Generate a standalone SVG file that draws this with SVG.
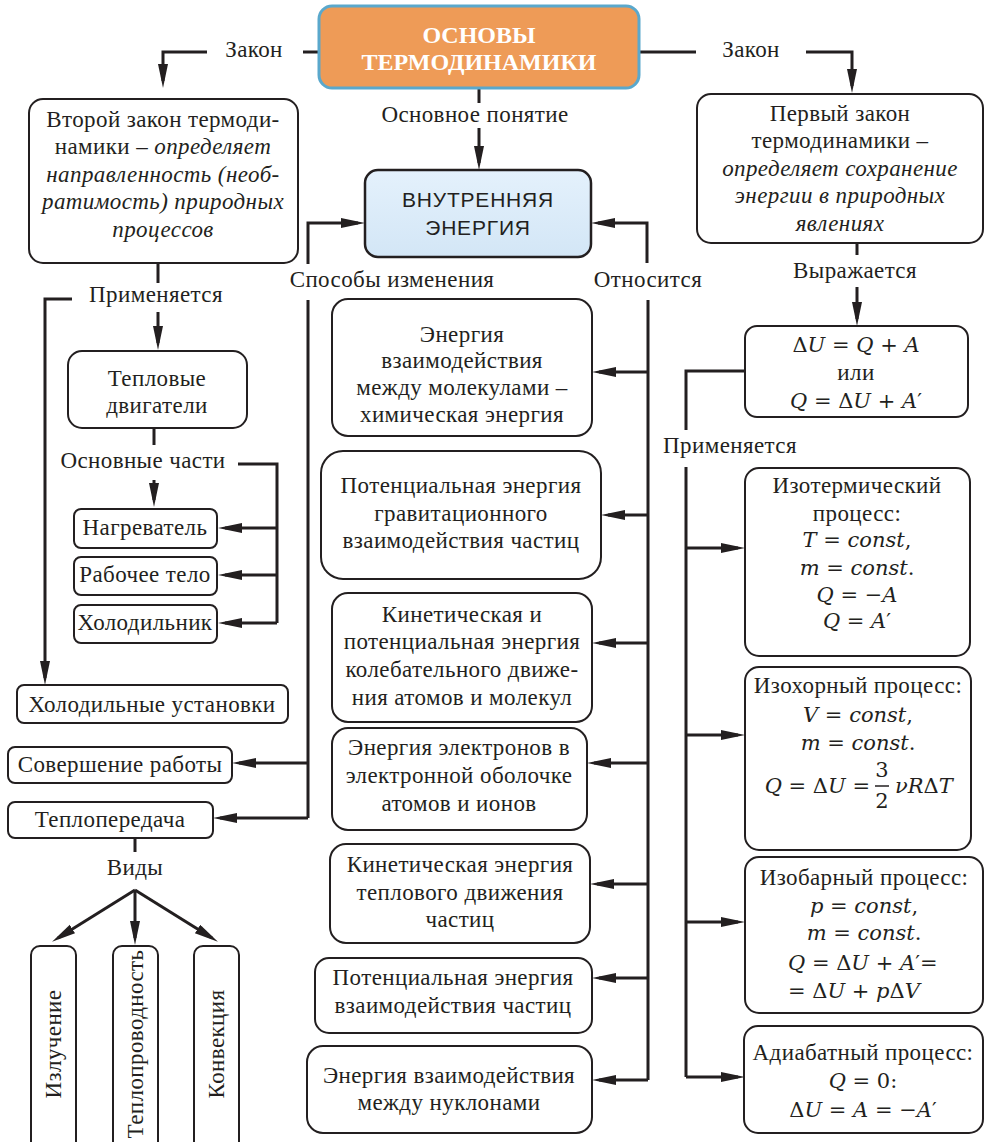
<svg xmlns="http://www.w3.org/2000/svg" width="985" height="1142" viewBox="0 0 985 1142">
<style>
.t{font-family:'Liberation Serif','Times New Roman',serif;font-size:23px;letter-spacing:0.4px;fill:#231f20;text-anchor:middle}
.m{font-family:'DejaVu Serif','Liberation Serif',serif;font-size:21px;fill:#231f20;text-anchor:middle}
.i{font-style:italic}
.box{fill:#fff;stroke:#231f20;stroke-width:2}
.ln{fill:none;stroke:#231f20;stroke-width:3}
.ar{marker-end:url(#ah)}
</style>
<defs>
<marker id="ah" markerUnits="userSpaceOnUse" markerWidth="26" markerHeight="12" refX="17" refY="5" orient="auto">
<path d="M0,0 L24,5 L0,10 z" fill="#231f20"/>
</marker>
<linearGradient id="bl" x1="0" y1="0" x2="0" y2="1">
<stop offset="0" stop-color="#e4f1fc"/><stop offset="1" stop-color="#d3e6f6"/>
</linearGradient>
</defs>

<g id="connectors">
<path class="ln" d="M303,52 H319"/>
<path class="ln ar" d="M207,52 H163 V81"/>
<path class="ln" d="M639,52 H696"/>
<path class="ln ar" d="M806,52 H852 V86"/>
<path class="ln" d="M479,88 V103"/>
<path class="ln ar" d="M479,128 V163"/>
<path class="ln ar" d="M308,264 V223 H358"/>
<path class="ln ar" d="M647,263 V223 H598"/>
<path class="ln" d="M308,300 V818"/>
<path class="ln ar" d="M308,763 H239"/>
<path class="ln ar" d="M308,818 H220"/>
<path class="ln" d="M648,300 V1080"/>
<path class="ln ar" d="M648,372 H599"/>
<path class="ln ar" d="M648,515 H608"/>
<path class="ln ar" d="M648,643 H599"/>
<path class="ln ar" d="M648,763 H594"/>
<path class="ln ar" d="M648,884 H597"/>
<path class="ln ar" d="M648,978 H599"/>
<path class="ln ar" d="M648,1080 H599"/>
<path class="ln" d="M158,263 V283"/>
<path class="ln ar" d="M72,299 H45 V678"/>
<path class="ln ar" d="M158,312 V343"/>
<path class="ln" d="M154,428 V445"/>
<path class="ln ar" d="M154,480 V500"/>
<path class="ln" d="M238,464 H277 V623"/>
<path class="ln ar" d="M277,528 H225"/>
<path class="ln ar" d="M277,575 H225"/>
<path class="ln ar" d="M277,623 H225"/>
<path class="ln" d="M135,838 V852"/>
<path class="ln ar" d="M135,890 L58,938"/>
<path class="ln ar" d="M135,890 V938"/>
<path class="ln ar" d="M135,890 L212,938"/>
<path class="ln" d="M857,243 V255"/>
<path class="ln ar" d="M857,287 V319"/>
<path class="ln" d="M745,371 H686 V430"/>
<path class="ln" d="M686,467 V1077"/>
<path class="ln ar" d="M686,548 H738"/>
<path class="ln ar" d="M686,735 H738"/>
<path class="ln ar" d="M686,922 H738"/>
<path class="ln ar" d="M686,1077 H738"/>
</g>

<g id="labels">
<text class="t" x="254" y="57">Закон</text>
<text class="t" x="751" y="57">Закон</text>
<text class="t" x="475" y="122">Основное понятие</text>
<text class="t" x="392" y="287">Способы изменения</text>
<text class="t" x="648" y="287">Относится</text>
<text class="t" x="156" y="302">Применяется</text>
<text class="t" x="143" y="468">Основные части</text>
<text class="t" x="135" y="875">Виды</text>
<text class="t" x="855" y="278">Выражается</text>
<text class="t" x="730" y="453">Применяется</text>
</g>

<g id="title">
<rect x="319" y="6" width="320" height="82" rx="13" fill="#ee9b57" stroke="#5aa8cc" stroke-width="3"/>
<text class="t" x="479" y="43" style="font-weight:bold;font-size:24px;letter-spacing:0;fill:#fff">ОСНОВЫ</text>
<text class="t" x="479" y="70" style="font-weight:bold;font-size:24px;letter-spacing:0;fill:#fff">ТЕРМОДИНАМИКИ</text>
</g>

<g id="internal-energy">
<rect x="365" y="170" width="226" height="87" rx="13" fill="url(#bl)" stroke="#231f20" stroke-width="2.5"/>
<text class="t" x="478" y="207" style="font-family:'Liberation Sans',Arial,sans-serif;font-size:21px;letter-spacing:0.8px">ВНУТРЕННЯЯ</text>
<text class="t" x="478" y="235" style="font-family:'Liberation Sans',Arial,sans-serif;font-size:21px;letter-spacing:0.8px">ЭНЕРГИЯ</text>
</g>

<g id="second-law">
<rect class="box" x="29" y="99" width="269" height="164" rx="14"/>
<text class="t" x="163" y="127">Второй закон термоди-</text>
<text class="t" x="163" y="154">намики – <tspan class="i">определяет</tspan></text>
<text class="t i" x="163" y="182">направленность (необ-</text>
<text class="t i" x="163" y="209">ратимость) природных</text>
<text class="t i" x="163" y="237">процессов</text>
</g>

<g id="first-law">
<rect class="box" x="697" y="94" width="286" height="149" rx="14"/>
<text class="t" x="840" y="121">Первый закон</text>
<text class="t" x="840" y="148">термодинамики –</text>
<text class="t i" x="840" y="176">определяет сохранение</text>
<text class="t i" x="840" y="203">энергии в природных</text>
<text class="t i" x="840" y="231">явлениях</text>
</g>

<g id="heat-engines">
<rect class="box" x="68" y="351" width="179" height="77" rx="14"/>
<text class="t" x="157" y="386">Тепловые</text>
<text class="t" x="157" y="413">двигатели</text>
</g>
<g id="heater">
<rect class="box" x="74" y="509" width="143" height="39" rx="7"/>
<text class="t" x="145" y="535">Нагреватель</text>
</g>
<g id="working-body">
<rect class="box" x="74" y="557" width="143" height="38" rx="7"/>
<text class="t" x="145" y="582">Рабочее тело</text>
</g>
<g id="cooler">
<rect class="box" x="74" y="605" width="143" height="38" rx="7"/>
<text class="t" x="145" y="630">Холодильник</text>
</g>
<g id="refrigerators">
<rect class="box" x="17" y="685" width="271" height="38" rx="7"/>
<text class="t" x="152" y="712">Холодильные установки</text>
</g>
<g id="work">
<rect class="box" x="8" y="747" width="224" height="36" rx="7"/>
<text class="t" x="120" y="772">Совершение работы</text>
</g>
<g id="heat-transfer">
<rect class="box" x="8" y="802" width="205" height="36" rx="7"/>
<text class="t" x="110" y="827">Теплопередача</text>
</g>
<g id="radiation">
<rect class="box" x="31" y="946" width="45" height="205" rx="9"/>
<text class="t" transform="translate(61,1044) rotate(-90)">Излучение</text>
</g>
<g id="conduction">
<rect class="box" x="113" y="946" width="45" height="205" rx="9"/>
<text class="t" transform="translate(143,1044) rotate(-90)">Теплопроводность</text>
</g>
<g id="convection">
<rect class="box" x="194" y="946" width="45" height="205" rx="9"/>
<text class="t" transform="translate(224,1044) rotate(-90)">Конвекция</text>
</g>

<g id="e1">
<rect class="box" x="332" y="299" width="260" height="137" rx="16"/>
<text class="t" x="462" y="342">Энергия</text>
<text class="t" x="462" y="368">взаимодействия</text>
<text class="t" x="462" y="395">между молекулами –</text>
<text class="t" x="462" y="422">химическая энергия</text>
</g>
<g id="e2">
<rect class="box" x="321" y="451" width="280" height="128" rx="22"/>
<text class="t" x="461" y="493">Потенциальная энергия</text>
<text class="t" x="461" y="521">гравитационного</text>
<text class="t" x="461" y="548">взаимодействия частиц</text>
</g>
<g id="e3">
<rect class="box" x="332" y="593" width="260" height="129" rx="16"/>
<text class="t" x="462" y="622">Кинетическая и</text>
<text class="t" x="462" y="649">потенциальная энергия</text>
<text class="t" x="462" y="677">колебательного движе-</text>
<text class="t" x="462" y="705">ния атомов и молекул</text>
</g>
<g id="e4">
<rect class="box" x="332" y="728" width="255" height="102" rx="16"/>
<text class="t" x="459" y="755">Энергия электронов в</text>
<text class="t" x="459" y="783">электронной оболочке</text>
<text class="t" x="459" y="811">атомов и ионов</text>
</g>
<g id="e5">
<rect class="box" x="330" y="844" width="260" height="99" rx="16"/>
<text class="t" x="460" y="872">Кинетическая энергия</text>
<text class="t" x="460" y="900">теплового движения</text>
<text class="t" x="460" y="927">частиц</text>
</g>
<g id="e6">
<rect class="box" x="315" y="958" width="277" height="75" rx="14"/>
<text class="t" x="453" y="985">Потенциальная энергия</text>
<text class="t" x="453" y="1013">взаимодействия частиц</text>
</g>
<g id="e7">
<rect class="box" x="307" y="1046" width="285" height="87" rx="16"/>
<text class="t" x="449" y="1083">Энергия взаимодействия</text>
<text class="t" x="449" y="1110">между нуклонами</text>
</g>

<g id="formula">
<rect class="box" x="745" y="326" width="223" height="91" rx="12"/>
<text class="m" x="856" y="352">Δ<tspan class="i">U</tspan> = <tspan class="i">Q</tspan> + <tspan class="i">A</tspan></text>
<text class="t" x="856" y="380">или</text>
<text class="m" x="856" y="408"><tspan class="i">Q</tspan> = Δ<tspan class="i">U</tspan> + <tspan class="i">A</tspan>′</text>
</g>
<g id="isothermal">
<rect class="box" x="745" y="468" width="225" height="188" rx="14"/>
<text class="t" x="857" y="493">Изотермический</text>
<text class="t" x="857" y="521">процесс:</text>
<text class="m" x="857" y="547"><tspan class="i">T</tspan> = <tspan class="i">const</tspan>,</text>
<text class="m" x="857" y="575"><tspan class="i">m</tspan> = <tspan class="i">const</tspan>.</text>
<text class="m" x="857" y="602"><tspan class="i">Q</tspan> = −<tspan class="i">A</tspan></text>
<text class="m" x="857" y="628"><tspan class="i">Q</tspan> = <tspan class="i">A</tspan>′</text>
</g>
<g id="isochoric">
<rect class="box" x="745" y="667" width="226" height="183" rx="14"/>
<text class="t" x="858" y="693">Изохорный процесс:</text>
<text class="m" x="858" y="722"><tspan class="i">V</tspan> = <tspan class="i">const</tspan>,</text>
<text class="m" x="858" y="750"><tspan class="i">m</tspan> = <tspan class="i">const</tspan>.</text>
<text class="m" x="870" y="793" style="text-anchor:end"><tspan class="i">Q</tspan> = Δ<tspan class="i">U</tspan> =</text>
<text class="m" x="882" y="777">3</text>
<path d="M875,786 H889" stroke="#231f20" stroke-width="1.5"/>
<text class="m" x="882" y="808">2</text>
<text class="m" x="895" y="793" style="text-anchor:start"><tspan class="i">νR</tspan>Δ<tspan class="i">T</tspan></text>
</g>
<g id="isobaric">
<rect class="box" x="745" y="857" width="238" height="156" rx="14"/>
<text class="t" x="864" y="885">Изобарный процесс:</text>
<text class="m" x="864" y="913"><tspan class="i">p</tspan> = <tspan class="i">const</tspan>,</text>
<text class="m" x="864" y="940"><tspan class="i">m</tspan> = <tspan class="i">const</tspan>.</text>
<text class="m" x="788" y="970" style="text-anchor:start"><tspan class="i">Q</tspan> = Δ<tspan class="i">U</tspan> + <tspan class="i">A</tspan>′=</text>
<text class="m" x="788" y="998" style="text-anchor:start">= Δ<tspan class="i">U</tspan> + <tspan class="i">p</tspan>Δ<tspan class="i">V</tspan></text>
</g>
<g id="adiabatic">
<rect class="box" x="744" y="1026" width="239" height="107" rx="14"/>
<text class="t" x="863" y="1060">Адиабатный процесс:</text>
<text class="m" x="863" y="1088"><tspan class="i">Q</tspan> = 0:</text>
<text class="m" x="863" y="1117">Δ<tspan class="i">U</tspan> = <tspan class="i">A</tspan> = −<tspan class="i">A</tspan>′</text>
</g>
</svg>
